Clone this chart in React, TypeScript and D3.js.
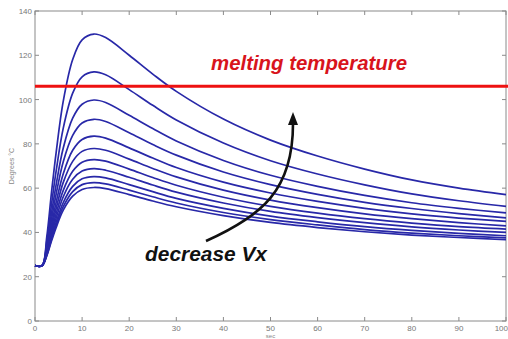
import * as d3 from "d3";
import React, { useEffect, useRef } from "react";

// time grid (sec) shared by every curve
const seconds = [0, 1.5, 2.5, 3.5, 4.5, 6, 8, 10, 12.5, 15, 20, 25, 30, 40, 50, 60, 70, 80, 90, 100];

// temperature (°C), one array per Vx, highest peak first
const vx1 = [25, 25, 38, 58, 76.3, 99.3, 118.1, 127, 129.6, 128, 120, 111.5, 103.7, 91.2, 81.7, 74.5, 68.6, 63.7, 60, 57.1];
const vx2 = [25, 25, 35.9, 52.6, 67.9, 87.1, 102.9, 110.3, 112.5, 111.2, 104.5, 97.4, 90.8, 80.4, 72.4, 66.4, 61.5, 57.4, 54.3, 51.8];
const vx3 = [25, 25, 34.3, 48.6, 61.7, 78.1, 91.6, 97.9, 99.8, 98.7, 92.9, 86.9, 81.3, 72.5, 65.8, 60.8, 56.7, 53.4, 50.9, 48.8];
const vx4 = [25, 25, 33.2, 45.8, 57.4, 71.9, 83.8, 89.4, 91.1, 90.1, 85, 79.7, 74.9, 67.3, 61.6, 57.2, 53.6, 50.8, 48.5, 46.6];
const vx5 = [25, 25, 32.3, 43.4, 53.7, 66.5, 77.1, 82, 83.5, 82.6, 78.2, 73.6, 69.3, 62.7, 57.8, 54, 50.9, 48.4, 46.5, 45];
const vx6 = [25, 25, 31.6, 41.7, 50.9, 62.6, 72.1, 76.6, 77.9, 77.1, 73.1, 68.9, 65.1, 59.1, 54.6, 51.2, 48.4, 46.2, 44.4, 43];
const vx7 = [25, 25, 30.9, 40.1, 48.5, 59, 67.6, 71.7, 72.9, 72.2, 68.6, 64.8, 61.3, 55.9, 51.8, 48.7, 46.2, 44.2, 42.6, 41.5];
const vx8 = [25, 25, 30.4, 38.8, 46.5, 56.1, 64, 67.7, 68.8, 68.1, 64.9, 61.4, 58.2, 53.3, 49.5, 46.7, 44.4, 42.5, 41.1, 40];
const vx9 = [25, 25, 30, 37.7, 44.7, 53.5, 60.8, 64.2, 65.2, 64.6, 61.6, 58.4, 55.4, 50.9, 47.4, 44.8, 42.6, 40.9, 39.6, 38.5];
const vx10 = [25, 25, 29.7, 36.8, 43.4, 51.6, 58.4, 61.6, 62.5, 61.9, 59.1, 56.1, 53.3, 49, 45.8, 43.4, 41.3, 39.7, 38.5, 37.5];
const vx11 = [25, 25, 29.4, 36.1, 42.3, 50.1, 56.4, 59.4, 60.3, 59.8, 57.1, 54.2, 51.6, 47.6, 44.5, 42.2, 40.3, 38.8, 37.7, 36.7];

const curves = [vx1, vx2, vx3, vx4, vx5, vx6, vx7, vx8, vx9, vx10, vx11];

const meltingTemp = 106;
const xTicks = [0, 10, 20, 30, 40, 50, 60, 70, 80, 90, 100];
const yTicks = [0, 20, 40, 60, 80, 100, 120, 140];

export default function App() {
  const ref = useRef<SVGSVGElement>(null);

  useEffect(() => {
    const W = 508;
    const H = 339;
    const svg = d3.select(ref.current).attr("width", W).attr("height", H);
    svg.selectAll("*").remove();

    const x = d3.scaleLinear().domain([0, 100]).range([35, 506]);
    const y = d3.scaleLinear().domain([0, 140]).range([321, 11]);
    const axisColor = "#8a8a8a";
    const font = "Liberation Sans, Arial, sans-serif";

    svg.append("rect").attr("width", W).attr("height", H).attr("fill", "#fff");

    // axes box, matlab style with inner ticks
    svg
      .append("rect")
      .attr("x", x(0))
      .attr("y", y(140))
      .attr("width", x(100) - x(0))
      .attr("height", y(0) - y(140))
      .attr("fill", "none")
      .attr("stroke", axisColor);

    const tk = svg.append("g").attr("stroke", axisColor);
    xTicks.forEach((t) => {
      tk.append("line").attr("x1", x(t)).attr("x2", x(t)).attr("y1", y(0)).attr("y2", y(0) - 4);
      tk.append("line").attr("x1", x(t)).attr("x2", x(t)).attr("y1", y(140)).attr("y2", y(140) + 4);
    });
    yTicks.forEach((t) => {
      tk.append("line").attr("x1", x(0)).attr("x2", x(0) + 4).attr("y1", y(t)).attr("y2", y(t));
      tk.append("line").attr("x1", x(100)).attr("x2", x(100) - 4).attr("y1", y(t)).attr("y2", y(t));
    });

    svg
      .append("g")
      .selectAll("text")
      .data(xTicks)
      .enter()
      .append("text")
      .attr("x", (d) => (d === 100 ? W : x(d)))
      .attr("y", 331)
      .attr("text-anchor", (d) => (d === 100 ? "end" : "middle"))
      .attr("font-family", font)
      .attr("font-size", 8)
      .attr("fill", "#777")
      .text((d) => d);

    svg
      .append("g")
      .selectAll("text")
      .data(yTicks)
      .enter()
      .append("text")
      .attr("x", 32)
      .attr("y", (d) => y(d) + 3)
      .attr("text-anchor", "end")
      .attr("font-family", font)
      .attr("font-size", 8)
      .attr("fill", "#777")
      .text((d) => d);

    svg
      .append("text")
      .attr("x", x(50))
      .attr("y", 338)
      .attr("text-anchor", "middle")
      .attr("font-family", font)
      .attr("font-size", 6)
      .attr("fill", "#888")
      .text("sec");

    svg
      .append("text")
      .attr("transform", `translate(14, ${y(70)}) rotate(-90)`)
      .attr("text-anchor", "middle")
      .attr("font-family", font)
      .attr("font-size", 7)
      .attr("fill", "#888")
      .text("Degrees °C");

    const line = d3
      .line<number>()
      .x((_, i) => x(seconds[i]))
      .y((d) => y(d))
      .curve(d3.curveCatmullRom.alpha(0.5));

    svg
      .append("g")
      .selectAll("path")
      .data(curves)
      .enter()
      .append("path")
      .attr("d", (d) => line(d))
      .attr("fill", "none")
      .attr("stroke", "#2828a8")
      .attr("stroke-width", 1.7);

    // melting temperature
    svg
      .append("line")
      .attr("x1", x(0))
      .attr("x2", W)
      .attr("y1", y(meltingTemp))
      .attr("y2", y(meltingTemp))
      .attr("stroke", "#ee1111")
      .attr("stroke-width", 3);

    svg
      .append("text")
      .attr("x", 211)
      .attr("y", 70)
      .attr("font-family", font)
      .attr("font-size", 21)
      .attr("font-style", "italic")
      .attr("font-weight", "bold")
      .attr("fill", "#d8141c")
      .attr("textLength", 196)
      .attr("lengthAdjust", "spacingAndGlyphs")
      .text("melting temperature");

    // arrow
    svg
      .append("path")
      .attr("d", "M206,241 C262,216 293,190 293,124")
      .attr("fill", "none")
      .attr("stroke", "#111")
      .attr("stroke-width", 2.6);
    svg
      .append("path")
      .attr("d", "M293,112 L288,125 L298,125 Z")
      .attr("fill", "#111");

    svg
      .append("text")
      .attr("x", 145)
      .attr("y", 261)
      .attr("font-family", font)
      .attr("font-size", 20)
      .attr("font-style", "italic")
      .attr("font-weight", "bold")
      .attr("fill", "#111")
      .attr("textLength", 122)
      .attr("lengthAdjust", "spacingAndGlyphs")
      .text("decrease Vx");
  }, []);

  return (
    <svg
      ref={ref}
      style={{ position: "absolute", left: 0, top: 0, display: "block" }}
    />
  );
}
